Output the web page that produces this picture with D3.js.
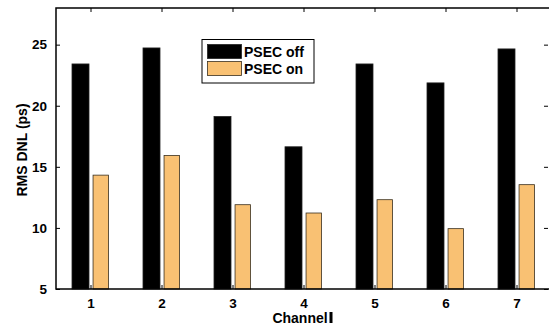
<!DOCTYPE html>
<html><head><meta charset="utf-8">
<script src="https://cdn.jsdelivr.net/npm/d3@7"></script>
<style>body{margin:0;background:#fff}svg{display:block}</style>
</head><body>
<script>
const channels = [1,2,3,4,5,6,7];
const psecOff = [23.42, 24.73, 19.12, 16.64, 23.42, 21.87, 24.65];
const psecOn  = [14.32, 15.93, 11.90, 11.22, 12.31, 9.94, 13.54];
const yTicks = [5,10,15,20,25];
const seriesNames = ["PSEC off","PSEC on"];
const colors = ["#000000","#F9C173"];

(function(){
const W=549,H=331;
const svg=d3.select("body").append("svg").attr("width",W).attr("height",H);
const pl=55,pr=552,pt=8,pb=289;
const x=d3.scaleLinear().domain([0.5,7.5]).range([pl,pr]);
const y=d3.scaleLinear().domain([5,28]).range([pb,pt]);
const font="Arial, 'Liberation Sans', Helvetica, sans-serif";

// bars
const offs=[-10,10.3], bw=[17,15.5];
[psecOff,psecOn].forEach((vals,s)=>{
  svg.append("g").selectAll("rect").data(vals).join("rect")
    .attr("x",(d,i)=>x(channels[i])+offs[s]-bw[s]/2)
    .attr("y",d=>y(d))
    .attr("width",bw[s])
    .attr("height",d=>y(5)-y(d))
    .attr("fill",colors[s])
    .attr("stroke",s===0?"#222":"#3a3020")
    .attr("stroke-width",0.8);
});

// frame
svg.append("rect").attr("x",pl+1).attr("y",pt).attr("width",pr-pl).attr("height",pb-pt)
  .attr("fill","none").attr("stroke","#000").attr("stroke-width",1.5);

// axes
const xAxisB=d3.axisBottom(x).tickValues(channels).tickFormat(d3.format("d")).tickSizeInner(-4).tickSizeOuter(0).tickPadding(9);
const gx=svg.append("g").attr("transform",`translate(0,${pb})`).call(xAxisB);
gx.select(".domain").remove();
const xAxisT=d3.axisTop(x).tickValues(channels).tickSizeInner(-4).tickSizeOuter(0).tickFormat("");
const gxt=svg.append("g").attr("transform",`translate(0,${pt})`).call(xAxisT);
gxt.select(".domain").remove();
const yAxisL=d3.axisLeft(y).tickValues(yTicks).tickFormat(d3.format("d")).tickSizeInner(-4).tickSizeOuter(0).tickPadding(9);
const gy=svg.append("g").attr("transform",`translate(${pl+1},0)`).call(yAxisL);
gy.select(".domain").remove();
const yAxisR=d3.axisRight(y).tickValues(yTicks).tickSizeInner(-4).tickSizeOuter(0).tickFormat("");
const gyr=svg.append("g").attr("transform",`translate(${pr-4},0)`).call(yAxisR);
gyr.select(".domain").remove();
svg.selectAll(".tick line").attr("stroke","#000");
svg.selectAll(".tick text").attr("font-family",font).attr("font-size",13.5).attr("font-weight","bold").attr("fill","#000");

// labels
svg.append("text").attr("x",300).attr("y",323).attr("text-anchor","middle")
  .attr("font-family",font).attr("font-size",14).attr("font-weight","bold").text("Channel");
svg.append("rect").attr("x",329.5).attr("y",312).attr("width",3).attr("height",11).attr("fill","#000");
svg.append("text").attr("transform","translate(27,150) rotate(-90)").attr("text-anchor","middle")
  .attr("font-family",font).attr("font-size",14).attr("font-weight","bold").text("RMS DNL (ps)");

// legend
const lg=svg.append("g");
lg.append("rect").attr("x",202).attr("y",39.5).attr("width",112).attr("height",43.5)
  .attr("fill","#fff").attr("stroke","#000").attr("stroke-width",1);
seriesNames.forEach((n,i)=>{
  lg.append("rect").attr("x",207.5).attr("y",44.5+i*17).attr("width",34).attr("height",14)
    .attr("fill",colors[i]).attr("stroke",i===0?"#222":"#3a3020").attr("stroke-width",0.8);
  lg.append("text").attr("x",244).attr("y",57+i*17).attr("font-family",font)
    .attr("font-size",14).attr("font-weight","bold").text(n);
});
})();
</script>
</body></html>
